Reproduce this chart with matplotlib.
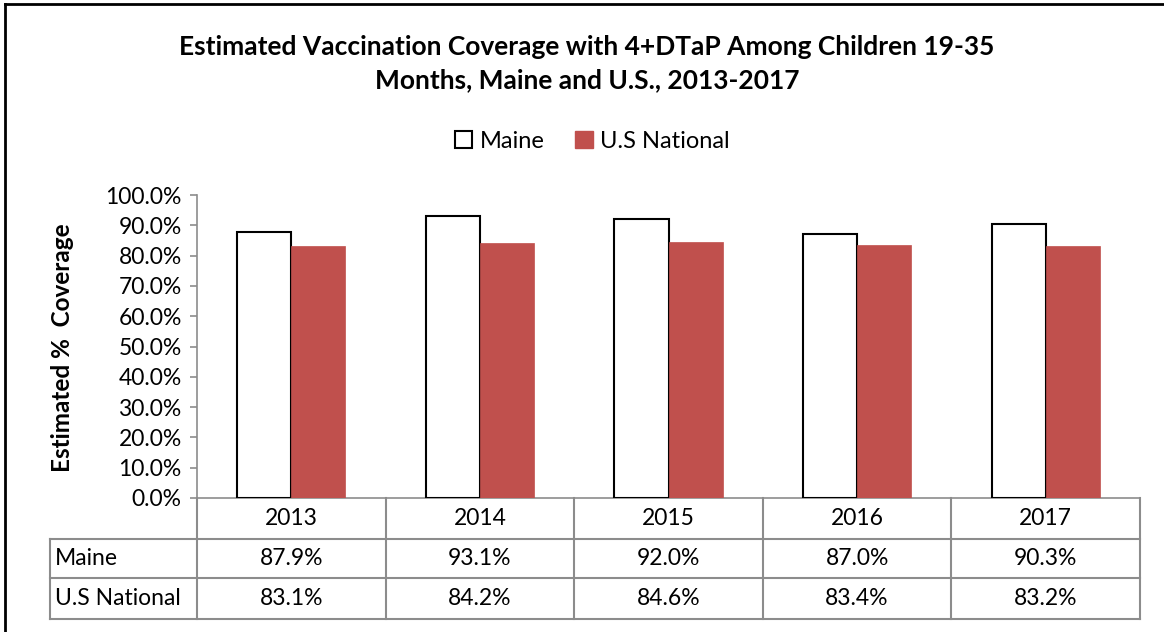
import numpy as np
import matplotlib
matplotlib.use("Agg")
import matplotlib.pyplot as plt
from matplotlib.lines import Line2D
from matplotlib.patches import Patch

plt.rcParams['font.family'] = ['Lato', 'DejaVu Sans']

# data
years = ['2013', '2014', '2015', '2016', '2017']
maine = [87.9, 93.1, 92.0, 87.0, 90.3]
us_national = [83.1, 84.2, 84.6, 83.4, 83.2]
series_names = ['Maine', 'U.S National']
yticks = np.arange(0, 101, 10)

W, H = 1164, 632
fig = plt.figure(figsize=(W / 100, H / 100), dpi=100)

def fx(px):
    return px / W

def fy(py):
    return 1 - py / H

# axes box (pixel positions)
ax = fig.add_axes([fx(197), fy(498), fx(1140) - fx(197), fy(195) - fy(498)])

x = np.arange(len(years))
bw = 0.287
red = '#C0504D'
ax.bar(x - bw / 2, maine, bw, color='white', edgecolor='black', linewidth=1.5, zorder=3)
ax.bar(x + bw / 2, us_national, bw, color=red, edgecolor=red, linewidth=0.5, zorder=3)

ax.set_xlim(-0.5, len(years) - 0.5)
ax.set_ylim(0, 100)
ax.set_yticks(yticks)
ax.set_yticklabels([f'{v:.1f}%' for v in yticks], fontsize=16.5)
ax.set_xticks([])
ax.tick_params(axis='y', length=5, width=1.2, color='#8c8c8c', pad=6)
for s in ['top', 'right']:
    ax.spines[s].set_visible(False)
ax.spines['left'].set_color('#8c8c8c')
ax.spines['left'].set_linewidth(1.2)
ax.spines['bottom'].set_color('#8c8c8c')
ax.spines['bottom'].set_linewidth(1.2)

fig.text(fx(62), fy(348), 'Estimated %  Coverage', rotation=90, fontsize=17.5,
         fontweight='bold', ha='center', va='center')

# title
fig.text(fx(587), fy(47), 'Estimated Vaccination Coverage with 4+DTaP Among Children 19-35',
         fontsize=19, fontweight='bold', ha='center', va='center')
fig.text(fx(587), fy(80), 'Months, Maine and U.S., 2013-2017',
         fontsize=19, fontweight='bold', ha='center', va='center')

# legend
handles = [Patch(facecolor='white', edgecolor='black', linewidth=1.5),
           Patch(facecolor=red, edgecolor=red)]
fig.legend(handles, series_names, loc='center', bbox_to_anchor=(fx(592), fy(141)),
           ncol=2, frameon=False, fontsize=17, handlelength=0.75, handleheight=0.75,
           handletextpad=0.3, columnspacing=1.3)

# data table below the axis
grid = '#8c8c8c'
row_tops = [498, 539, 578, 619]
edges = np.arange(len(years) + 1) - 0.5
to_fig = fig.transFigure.inverted()
for e in edges:
    xf = to_fig.transform(ax.transData.transform((e, 0)))[0]
    fig.add_artist(Line2D([xf, xf], [fy(498), fy(619)], color=grid, lw=1.5))
for ry in row_tops[1:]:
    fig.add_artist(Line2D([fx(50), fx(1140)], [fy(ry), fy(ry)], color=grid, lw=1.5))
fig.add_artist(Line2D([fx(50), fx(50)], [fy(539), fy(619)], color=grid, lw=1.5))

rows = [years,
        [f'{v:.1f}%' for v in maine],
        [f'{v:.1f}%' for v in us_national]]
for r, vals in enumerate(rows):
    yc = fy((row_tops[r] + row_tops[r + 1]) / 2)
    for i, v in enumerate(vals):
        xf = to_fig.transform(ax.transData.transform((x[i], 0)))[0]
        fig.text(xf, yc, v, fontsize=16.5, ha='center', va='center')
    if r > 0:
        fig.text(fx(55), yc, series_names[r - 1], fontsize=16.5, ha='left', va='center')

# outer frame (left and top edges visible)
fig.add_artist(Line2D([fx(5), fx(5)], [0, fy(4)], color='black', lw=2))
fig.add_artist(Line2D([fx(5), 1], [fy(4), fy(4)], color='black', lw=2))

fig.savefig('out.png', dpi=100)
